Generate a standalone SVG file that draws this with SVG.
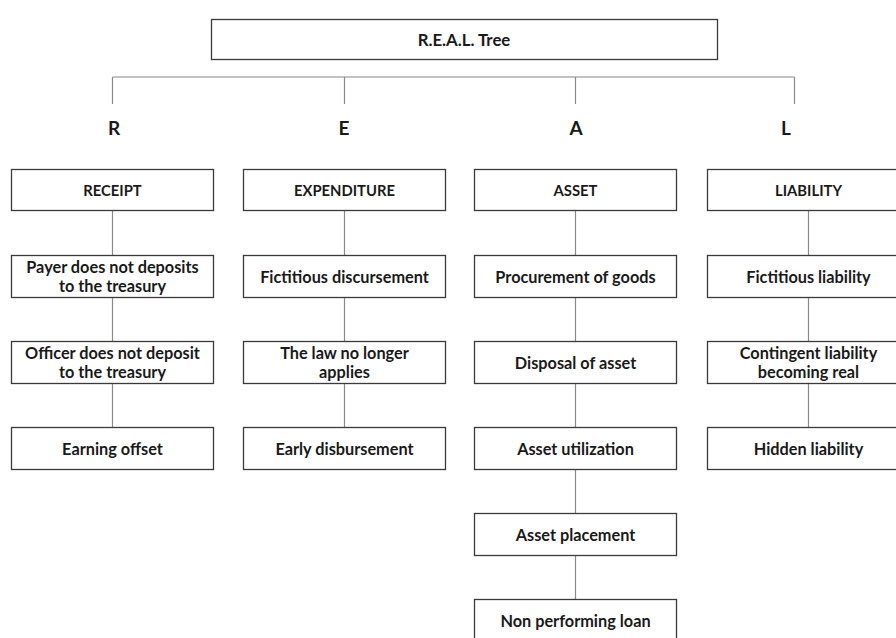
<svg xmlns="http://www.w3.org/2000/svg" width="896" height="638" viewBox="0 0 896 638">
<style>
.box{fill:#fff;stroke:#3a3a3a;stroke-width:1.3}
.t{font-family:Lato,"Liberation Sans",sans-serif;font-weight:bold;font-size:16.3px;fill:#1a1a1a;text-anchor:middle}
.h{font-size:14.8px}
.big{font-size:19px}
.title{font-size:16.8px}
.c{stroke:#8a8a8a;stroke-width:1.2;fill:none}
</style>
<rect width="896" height="638" fill="#fff"/>
<g id="connectors">
<path class="c" d="M112.5 77H794.5M112.5 77V104M344.5 77V104M575.5 77V104M794.5 77V104"/>
<path class="c" d="M112.5 211V255M112.5 297V341M112.5 383V427"/>
<path class="c" d="M344.5 211V255M344.5 297V341M344.5 383V427"/>
<path class="c" d="M575.5 211V255M575.5 297V341M575.5 383V427M575.5 469V513M575.5 555V599"/>
<path class="c" d="M808.5 211V255M808.5 297V341M808.5 383V427"/>
</g>
<g id="root"><rect class="box" x="211.5" y="19.5" width="506" height="40"/><text class="t title" x="464" y="46">R.E.A.L. Tree</text></g>
<g id="letter-R"><text class="t big" x="114" y="135">R</text></g>
<g id="letter-E"><text class="t big" x="344" y="135">E</text></g>
<g id="letter-A"><text class="t big" x="576" y="135">A</text></g>
<g id="letter-L"><text class="t big" x="786" y="135">L</text></g>

<g id="receipt"><rect class="box" x="11.5" y="169.5" width="202" height="41"/><text class="t h" x="112.5" y="196">RECEIPT</text></g>
<g id="payer"><rect class="box" x="11.5" y="255.5" width="202" height="42"/><text class="t" x="112.5" y="273">Payer does not deposits</text><text class="t" x="112.5" y="292">to the treasury</text></g>
<g id="officer"><rect class="box" x="11.5" y="341.5" width="202" height="42"/><text class="t" x="112.5" y="359">Officer does not deposit</text><text class="t" x="112.5" y="378">to the treasury</text></g>
<g id="earning"><rect class="box" x="11.5" y="427.5" width="202" height="42"/><text class="t" x="112.5" y="455">Earning offset</text></g>

<g id="expenditure"><rect class="box" x="243.5" y="169.5" width="202" height="41"/><text class="t h" x="344.5" y="196">EXPENDITURE</text></g>
<g id="fictitious-disc"><rect class="box" x="243.5" y="255.5" width="202" height="42"/><text class="t" x="344.5" y="283">Fictitious discursement</text></g>
<g id="law"><rect class="box" x="243.5" y="341.5" width="202" height="42"/><text class="t" x="344.5" y="359">The law no longer</text><text class="t" x="344.5" y="378">applies</text></g>
<g id="early"><rect class="box" x="243.5" y="427.5" width="202" height="42"/><text class="t" x="344.5" y="455">Early disbursement</text></g>

<g id="asset"><rect class="box" x="474.5" y="169.5" width="202" height="41"/><text class="t h" x="575.5" y="196">ASSET</text></g>
<g id="procurement"><rect class="box" x="474.5" y="255.5" width="202" height="42"/><text class="t" x="575.5" y="283">Procurement of goods</text></g>
<g id="disposal"><rect class="box" x="474.5" y="341.5" width="202" height="42"/><text class="t" x="575.5" y="369">Disposal of asset</text></g>
<g id="utilization"><rect class="box" x="474.5" y="427.5" width="202" height="42"/><text class="t" x="575.5" y="455">Asset utilization</text></g>
<g id="placement"><rect class="box" x="474.5" y="513.5" width="202" height="42"/><text class="t" x="575.5" y="541">Asset placement</text></g>
<g id="npl"><rect class="box" x="474.5" y="599.5" width="202" height="42"/><text class="t" x="575.5" y="627">Non performing loan</text></g>

<g id="liability"><rect class="box" x="707.5" y="169.5" width="190" height="41"/><text class="t h" x="808.5" y="196">LIABILITY</text></g>
<g id="fictitious-liab"><rect class="box" x="707.5" y="255.5" width="190" height="42"/><text class="t" x="808.5" y="283">Fictitious liability</text></g>
<g id="contingent"><rect class="box" x="707.5" y="341.5" width="190" height="42"/><text class="t" x="808.5" y="359">Contingent liability</text><text class="t" x="808.5" y="378">becoming real</text></g>
<g id="hidden"><rect class="box" x="707.5" y="427.5" width="190" height="42"/><text class="t" x="808.5" y="455">Hidden liability</text></g>
</svg>
